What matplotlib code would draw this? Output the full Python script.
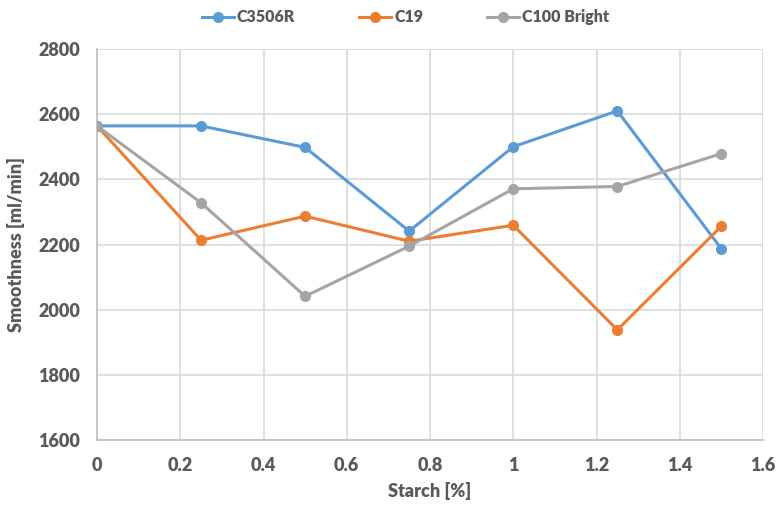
import matplotlib.pyplot as plt

starch = [0, 0.25, 0.5, 0.75, 1.0, 1.25, 1.5]
c3506r = [2564, 2564, 2498, 2241, 2500, 2610, 2187]
c19 = [2564, 2213, 2287, 2210, 2259, 1938, 2256]
c100_bright = [2564, 2328, 2041, 2195, 2371, 2378, 2479]

x_ticks = [0, 0.2, 0.4, 0.6, 0.8, 1, 1.2, 1.4, 1.6]
x_labels = ["0", "0.2", "0.4", "0.6", "0.8", "1", "1.2", "1.4", "1.6"]
y_ticks = [1600, 1800, 2000, 2200, 2400, 2600, 2800]

plt.rcParams['font.family'] = ['Lato', 'DejaVu Sans']
plt.rcParams['font.weight'] = 'heavy'
text_color = "#595959"

fig = plt.figure(figsize=(7.8, 5.12), dpi=100)
ax = fig.add_axes([97 / 780, 1 - 440 / 512, (763 - 97) / 780, (440 - 49) / 512])

ax.plot(starch, c3506r, color="#5b9bd5", lw=2.2, marker="o", ms=7, label="C3506R", zorder=3)
ax.plot(starch, c19, color="#ed7d31", lw=2.2, marker="o", ms=7, label="C19", zorder=3)
ax.plot(starch, c100_bright, color="#a5a5a5", lw=2.2, marker="o", ms=7, label="C100 Bright", zorder=3)

ax.set_xlim(0, 1.6)
ax.set_ylim(1600, 2800)
ax.set_xticks(x_ticks, x_labels, fontweight="heavy")
ax.set_yticks(y_ticks, [str(v) for v in y_ticks], fontweight="heavy")
ax.grid(True, color="#d9d9d9", lw=1.2)
ax.set_axisbelow(True)
for side in ["top", "right"]:
    ax.spines[side].set_visible(False)
for side in ["left", "bottom"]:
    ax.spines[side].set_color("#bfbfbf")
    ax.spines[side].set_linewidth(1.2)
ax.tick_params(length=0, pad=12, labelsize=13, labelcolor=text_color)

ax.set_xlabel("Starch [%]", fontsize=13, color=text_color, fontweight="heavy", labelpad=6)
ax.set_ylabel("Smoothness [ml/min]", fontsize=13, color=text_color, fontweight="heavy", labelpad=10)

fig.legend(loc="upper center", bbox_to_anchor=(0.52, 1.01), ncol=3, frameon=False,
           prop={"size": 11.5, "weight": "heavy"}, labelcolor=text_color,
           handlelength=2.0, columnspacing=4.0, handletextpad=0.2)

fig.savefig("out.png", dpi=100)
